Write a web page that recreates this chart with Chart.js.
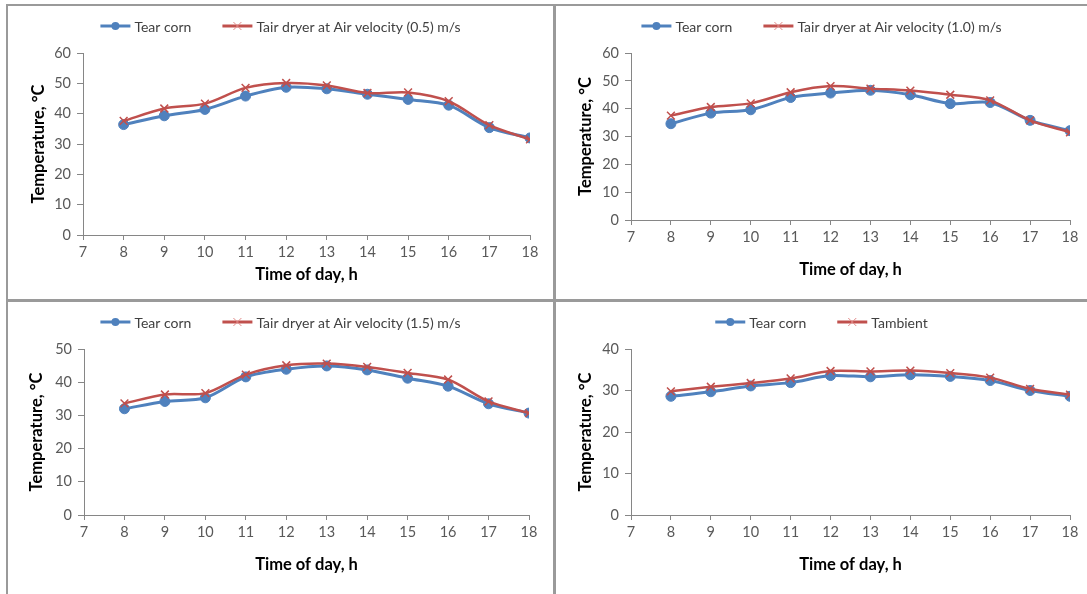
<!DOCTYPE html>
<html>
<head>
<meta charset="utf-8">
<script src="https://cdn.jsdelivr.net/npm/chart.js@4.4.1/dist/chart.umd.min.js"></script>
<style>
  body { margin: 0; background: #fff; }
  #page { position: relative; width: 1087px; height: 594px; overflow: hidden; background: #fff; }
  canvas { position: absolute; }
  .rule { position: absolute; background: #9a9a9a; }
</style>
</head>
<body>
<div id="page">
  <div class="rule" style="left:6px;top:4px;width:1081px;height:2px"></div>
  <div class="rule" style="left:6px;top:4px;width:2px;height:590px"></div>
  <div class="rule" style="left:553px;top:4px;width:3px;height:590px"></div>
  <div class="rule" style="left:6px;top:299px;width:1081px;height:3px"></div>
  <canvas id="chart-a" width="545" height="293" style="left:8px;top:6px"></canvas>
  <canvas id="chart-b" width="531" height="293" style="left:556px;top:6px"></canvas>
  <canvas id="chart-c" width="545" height="292" style="left:8px;top:302px"></canvas>
  <canvas id="chart-d" width="531" height="292" style="left:556px;top:302px"></canvas>
</div>
<script>
// time of day, h
const hours = [8, 9, 10, 11, 12, 13, 14, 15, 16, 17, 18];

// air velocity 0.5 m/s
const tearCornA = [36.4, 39.3, 41.4, 45.8, 48.7, 48.2, 46.4, 44.7, 42.8, 35.4, 32.0];
const tairDryerA = [37.6, 41.7, 43.3, 48.5, 50.1, 49.3, 46.8, 47.0, 44.1, 36.2, 31.5];

// air velocity 1.0 m/s
const tearCornB = [34.6, 38.4, 39.6, 44.0, 45.6, 46.6, 45.0, 41.8, 42.2, 35.8, 32.1];
const tairDryerB = [37.5, 40.6, 41.9, 45.9, 48.1, 47.2, 46.5, 45.0, 43.0, 35.8, 31.5];

// air velocity 1.5 m/s
const tearCornC = [32.0, 34.2, 35.3, 41.6, 43.9, 44.9, 43.7, 41.2, 38.8, 33.5, 30.7];
const tairDryerC = [33.6, 36.3, 36.7, 42.3, 45.1, 45.6, 44.6, 42.8, 40.8, 34.2, 30.7];

// ambient
const tearCornD = [28.6, 29.7, 31.1, 31.9, 33.6, 33.3, 33.8, 33.4, 32.4, 30.0, 28.6];
const tambientD = [29.8, 30.9, 31.8, 32.9, 34.7, 34.6, 34.8, 34.2, 33.1, 30.4, 29.0];

const BLUE = '#4F81BD';
const RED = '#C0504D';
const AXIS = '#868686';
const FONT = 'Lato';
const TITLE_SIZE = 16.5;

// legend: short line with the marker on it, then the label
const lineLegend = {
    id: 'lineLegend',
    afterDraw(chart) {
        const ctx = chart.ctx;
        ctx.save();
        ctx.font = '14px ' + FONT;
        const items = chart.data.datasets.map(ds => ({ ds, w: 34 + ctx.measureText(ds.label).width }));
        const total = items.reduce((s, it) => s + it.w, 0) + 31 * (items.length - 1);
        let x = (chart.width - total) / 2;
        const y = 20;
        items.forEach(it => {
            const ds = it.ds;
            ctx.strokeStyle = ds.borderColor;
            ctx.lineWidth = 3;
            ctx.beginPath();
            ctx.moveTo(x, y);
            ctx.lineTo(x + 30, y);
            ctx.stroke();
            const cx = x + 15;
            if (ds.pointStyle === 'circle') {
                ctx.fillStyle = ds.borderColor;
                ctx.beginPath();
                ctx.arc(cx, y, 4, 0, Math.PI * 2);
                ctx.fill();
            } else {
                ctx.strokeStyle = '#e08a88';
                ctx.lineWidth = 1;
                ctx.beginPath();
                ctx.moveTo(cx - 4, y - 4); ctx.lineTo(cx + 4, y + 4);
                ctx.moveTo(cx - 4, y + 4); ctx.lineTo(cx + 4, y - 4);
                ctx.stroke();
            }
            ctx.fillStyle = '#404040';
            ctx.textBaseline = 'middle';
            ctx.textAlign = 'left';
            ctx.fillText(ds.label, x + 34, y + 1);
            x += it.w + 31;
        });
        ctx.restore();
    }
};

function makeChart(canvasId, secondLabel, tear, tair, yMax, box) {
    const half = TITLE_SIZE * 1.2 / 2;
    const padLeft = box.yTitleX - half;
    const yWidth = box.left - padLeft;
    const xHeight = box.xTitleY + half - box.bottom;

    const data = {
        datasets: [{
            label: 'Tear corn',
            data: hours.map((h, i) => ({ x: h, y: tear[i] })),
            borderColor: BLUE,
            backgroundColor: BLUE,
            borderWidth: 3,
            pointStyle: 'circle',
            pointRadius: 5,
            pointBorderWidth: 1,
            tension: 0.3,
            order: 1
        }, {
            label: secondLabel,
            data: hours.map((h, i) => ({ x: h, y: tair[i] })),
            borderColor: RED,
            backgroundColor: RED,
            borderWidth: 2.5,
            pointStyle: 'crossRot',
            pointRadius: 5.5,
            pointBorderWidth: 1.5,
            tension: 0.3,
            order: 0
        }]
    };

    const config = {
        type: 'line',
        data,
        options: {
            responsive: false,
            animation: false,
            layout: {
                padding: {
                    left: padLeft,
                    right: box.w - box.right,
                    top: box.top,
                    bottom: box.h - box.bottom - xHeight
                }
            },
            plugins: {
                legend: { display: false },
                tooltip: { enabled: false }
            },
            scales: {
                x: {
                    type: 'linear',
                    min: 7,
                    max: 18,
                    afterFit: (scale) => { scale.height = xHeight; },
                    ticks: { stepSize: 1, maxTicksLimit: 20, padding: 4, color: '#595959', font: { family: FONT, size: 14.5 } },
                    grid: { drawOnChartArea: false, drawTicks: true, tickLength: 5, color: AXIS },
                    border: { color: AXIS },
                    title: { display: true, text: 'Time of day, h', color: '#000', padding: 0, font: { family: FONT, size: TITLE_SIZE, weight: 'bold' } }
                },
                y: {
                    min: 0,
                    max: yMax,
                    afterFit: (scale) => { scale.width = yWidth; },
                    ticks: { stepSize: 10, padding: 6, color: '#595959', font: { family: FONT, size: 14.5 } },
                    grid: { drawOnChartArea: false, drawTicks: true, tickLength: 6, color: AXIS },
                    border: { color: AXIS },
                    title: { display: true, text: 'Temperature, °C', color: '#000', padding: 0, font: { family: FONT, size: TITLE_SIZE, weight: 'bold' } }
                }
            }
        },
        plugins: [lineLegend]
    };

    return new Chart(document.getElementById(canvasId), config);
}

makeChart('chart-a', 'Tair dryer at Air velocity (0.5) m/s', tearCornA, tairDryerA, 60,
    { w: 545, h: 293, left: 75, right: 522, top: 47, bottom: 229, yTitleX: 31, xTitleY: 269 });
makeChart('chart-b', 'Tair dryer at Air velocity (1.0) m/s', tearCornB, tairDryerB, 60,
    { w: 531, h: 293, left: 75, right: 514, top: 47, bottom: 214, yTitleX: 30, xTitleY: 264 });
makeChart('chart-c', 'Tair dryer at Air velocity (1.5) m/s', tearCornC, tairDryerC, 50,
    { w: 545, h: 292, left: 76, right: 521, top: 47, bottom: 213, yTitleX: 29, xTitleY: 263 });
makeChart('chart-d', 'Tambient', tearCornD, tambientD, 40,
    { w: 531, h: 292, left: 75, right: 514, top: 47, bottom: 213, yTitleX: 30, xTitleY: 263 });
</script>
</body>
</html>
